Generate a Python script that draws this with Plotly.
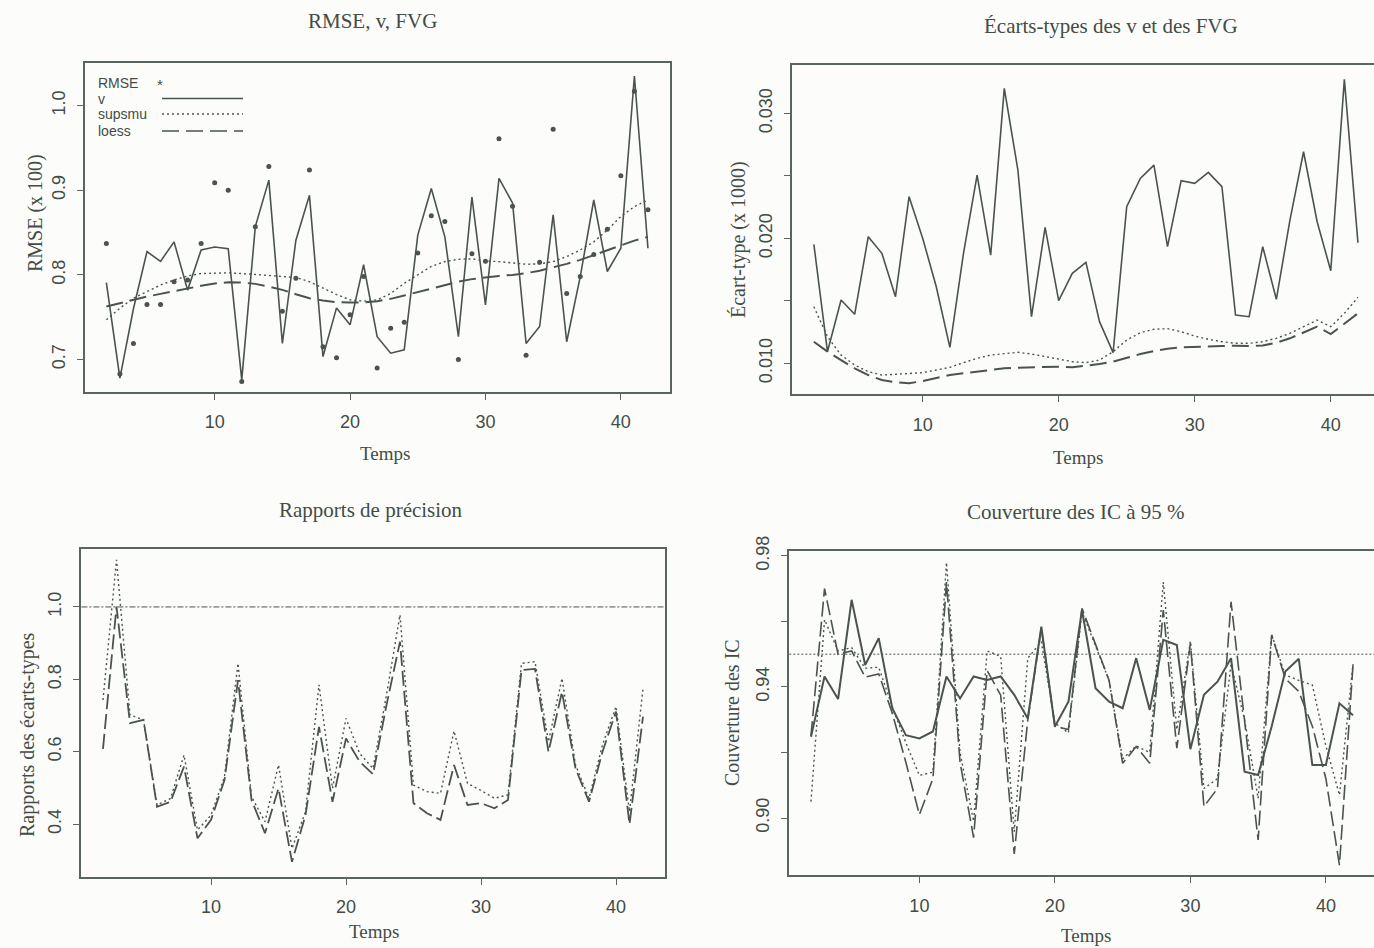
import plotly.graph_objects as go

# ---------------- data ----------------
temps = list(range(2, 43))

# Panel 1 : RMSE, v, FVG
rmse = [0.837, 0.683, 0.719, 0.765, 0.765, 0.792, 0.794, 0.837, 0.909, 0.900,
        0.674, 0.857, 0.928, 0.757, 0.796, 0.924, 0.715, 0.702, 0.753, 0.798,
        0.690, 0.737, 0.744, 0.826, 0.870, 0.863, 0.700, 0.825, 0.816, 0.961,
        0.881, 0.705, 0.815, 0.972, 0.778, 0.798, 0.824, 0.854, 0.917, 1.017, 0.877]
v_rmse = [0.791, 0.678, 0.760, 0.8275, 0.816, 0.839, 0.782, 0.8295, 0.833, 0.831,
          0.676, 0.857, 0.912, 0.719, 0.841, 0.894, 0.7035, 0.761, 0.741, 0.812,
          0.727, 0.7075, 0.7115, 0.847, 0.902, 0.845, 0.727, 0.892, 0.7646, 0.914,
          0.885, 0.719, 0.739, 0.871, 0.721, 0.798, 0.8885, 0.804, 0.8315, 1.035, 0.8315]
supsmu_rmse = [0.747, 0.7607, 0.7725, 0.780, 0.788, 0.794, 0.7988, 0.8016, 0.8024, 0.8024,
               0.8016, 0.8004, 0.7996, 0.7988, 0.797, 0.792, 0.7846, 0.7768, 0.7705, 0.769,
               0.7705, 0.778, 0.790, 0.800, 0.810, 0.8157, 0.8185, 0.819, 0.8165, 0.8157,
               0.8138, 0.8126, 0.813, 0.8157, 0.8216, 0.8295, 0.839, 0.853, 0.869, 0.8807, 0.8885]
loess_rmse = [0.7626, 0.7666, 0.7705, 0.7744, 0.7776, 0.781, 0.7843, 0.7871, 0.7898, 0.7913,
              0.791, 0.7894, 0.7862, 0.7823, 0.7772, 0.7725, 0.7697, 0.7677, 0.7673, 0.7673,
              0.7690, 0.7717, 0.7756, 0.7795, 0.7843, 0.788, 0.792, 0.795, 0.7972, 0.7988,
              0.800, 0.802, 0.805, 0.8087, 0.813, 0.8177, 0.8236, 0.8295, 0.8354, 0.8405, 0.845]

# Panel 2 : Ecarts-types des v et des FVG
sd_v = [0.01952, 0.01093, 0.01506, 0.01392, 0.02013, 0.0188, 0.01533, 0.02333, 0.0200, 0.01613,
        0.01128, 0.0188, 0.02506, 0.01866, 0.0320, 0.02546, 0.01373, 0.02088, 0.01501, 0.0172,
        0.01808, 0.01333, 0.01085, 0.02253, 0.0248, 0.02586, 0.01933, 0.02461, 0.0244, 0.02528,
        0.02413, 0.01386, 0.01373, 0.01933, 0.01512, 0.02146, 0.02693, 0.02133, 0.01741, 0.03272, 0.01965]
sd_supsmu = [0.01453, 0.01213, 0.01066, 0.00986, 0.00933, 0.00906, 0.00912, 0.0092, 0.00925, 0.00946,
             0.00968, 0.01005, 0.0104, 0.01066, 0.0108, 0.01088, 0.01074, 0.01053, 0.01032, 0.01013,
             0.01005, 0.01026, 0.01093, 0.01186, 0.01245, 0.01272, 0.01277, 0.01253, 0.01218, 0.01192,
             0.01173, 0.0116, 0.0116, 0.01173, 0.012, 0.0124, 0.01293, 0.01346, 0.01293, 0.014, 0.01528]
sd_loess = [0.01173, 0.01093, 0.01026, 0.0096, 0.00906, 0.00866, 0.00848, 0.0084, 0.00858, 0.00885,
            0.00906, 0.0092, 0.00933, 0.00952, 0.0096, 0.00965, 0.00968, 0.00973, 0.00973, 0.00968,
            0.00978, 0.00994, 0.01013, 0.01045, 0.01074, 0.01098, 0.01117, 0.01128, 0.01133, 0.01138,
            0.01138, 0.01141, 0.01138, 0.01142, 0.01165, 0.012, 0.01248, 0.01293, 0.01234, 0.01314, 0.014]

# Panel 3 : Rapports de precision
ratio_supsmu = [0.743, 1.13, 0.702, 0.688, 0.453, 0.471, 0.591, 0.384, 0.425, 0.531,
                0.844, 0.476, 0.407, 0.5635, 0.333, 0.4345, 0.785, 0.499, 0.692, 0.596,
                0.554, 0.757, 0.978, 0.508, 0.490, 0.485, 0.6575, 0.513, 0.493, 0.4715,
                0.481, 0.844, 0.849, 0.628, 0.803, 0.564, 0.471, 0.619, 0.725, 0.4345, 0.775]
ratio_loess = [0.608, 1.001, 0.679, 0.688, 0.448, 0.462, 0.559, 0.361, 0.412, 0.522,
               0.798, 0.467, 0.375, 0.499, 0.296, 0.425, 0.669, 0.462, 0.637, 0.573,
               0.538, 0.729, 0.904, 0.458, 0.430, 0.412, 0.5635, 0.453, 0.458, 0.444,
               0.467, 0.826, 0.829, 0.600, 0.766, 0.554, 0.462, 0.600, 0.711, 0.400, 0.697]
ratio_ref = 1.0

# Panel 4 : Couverture des IC a 95 %
cov_v = [0.9248, 0.9432, 0.9363, 0.9666, 0.9467, 0.9549, 0.9335, 0.9253, 0.9243, 0.9264,
         0.9432, 0.9365, 0.9432, 0.9421, 0.9432, 0.9376, 0.9304, 0.9584, 0.9279, 0.9355,
         0.9635, 0.9396, 0.9355, 0.9335, 0.9488, 0.933, 0.9544, 0.9528, 0.921, 0.9376,
         0.9416, 0.9488, 0.9141, 0.9131, 0.928, 0.9447, 0.9486, 0.9162, 0.9162, 0.935, 0.9314]
cov_supsmu = [0.905, 0.9605, 0.951, 0.952, 0.9457, 0.946, 0.934, 0.923, 0.913, 0.914,
              0.978, 0.920, 0.899, 0.951, 0.9493, 0.8958, 0.9488, 0.9538, 0.929, 0.926,
              0.963, 0.9528, 0.942, 0.918, 0.922, 0.920, 0.972, 0.927, 0.954, 0.909,
              0.912, 0.947, 0.930, 0.906, 0.956, 0.9437, 0.942, 0.9406, 0.922, 0.907, 0.947]
cov_loess = [0.925, 0.970, 0.950, 0.951, 0.943, 0.944, 0.932, 0.917, 0.901, 0.912,
             0.972, 0.917, 0.894, 0.945, 0.9375, 0.889, 0.930, 0.958, 0.928, 0.927,
             0.964, 0.953, 0.942, 0.9167, 0.9218, 0.9167, 0.9635, 0.9213, 0.9533, 0.9035,
             0.909, 0.966, 0.930, 0.8933, 0.9559, 0.9426, 0.9386, 0.928, 0.912, 0.8856, 0.9467]
cov_ref = 0.95

x_ticks = [10, 20, 30, 40]

# ---------------- style ----------------
W, H = 1374, 948
LINE = "#4a544d"
TEXT = "#434c46"
BOX = "#5a655d"
BG = "#fcfcfa"
SERIF = "Liberation Serif, Times New Roman, serif"
SANS = "Liberation Sans, Arial, sans-serif"
DOT = "2px,3px"
DASH = "17px,7px"


def fx(p):
    return p / W


def fy(p):
    return 1 - p / H


fig = go.Figure()

# Panel 1
fig.add_trace(go.Scatter(x=temps, y=v_rmse, mode="lines", line=dict(color=LINE, width=1.6),
                         xaxis="x", yaxis="y", name="v"))
fig.add_trace(go.Scatter(x=temps, y=supsmu_rmse, mode="lines", line=dict(color=LINE, width=1.4, dash=DOT),
                         xaxis="x", yaxis="y", name="supsmu"))
fig.add_trace(go.Scatter(x=temps, y=loess_rmse, mode="lines", line=dict(color=LINE, width=2, dash=DASH),
                         xaxis="x", yaxis="y", name="loess"))
fig.add_trace(go.Scatter(x=temps, y=rmse, mode="markers", marker=dict(color=LINE, size=5),
                         xaxis="x", yaxis="y", name="RMSE"))

# Panel 2
fig.add_trace(go.Scatter(x=temps, y=sd_v, mode="lines", line=dict(color=LINE, width=1.6),
                         xaxis="x2", yaxis="y2", name="v"))
fig.add_trace(go.Scatter(x=temps, y=sd_supsmu, mode="lines", line=dict(color=LINE, width=1.4, dash=DOT),
                         xaxis="x2", yaxis="y2", name="supsmu"))
fig.add_trace(go.Scatter(x=temps, y=sd_loess, mode="lines", line=dict(color=LINE, width=2, dash=DASH),
                         xaxis="x2", yaxis="y2", name="loess"))

# Panel 3
fig.add_trace(go.Scatter(x=temps, y=ratio_supsmu, mode="lines", line=dict(color=LINE, width=1.4, dash=DOT),
                         xaxis="x3", yaxis="y3", name="supsmu"))
fig.add_trace(go.Scatter(x=temps, y=ratio_loess, mode="lines", line=dict(color=LINE, width=1.8, dash="15px,5px"),
                         xaxis="x3", yaxis="y3", name="loess"))

# Panel 4
fig.add_trace(go.Scatter(x=temps, y=cov_v, mode="lines", line=dict(color=LINE, width=2),
                         xaxis="x4", yaxis="y4", name="v"))
fig.add_trace(go.Scatter(x=temps, y=cov_supsmu, mode="lines", line=dict(color=LINE, width=1.4, dash=DOT),
                         xaxis="x4", yaxis="y4", name="supsmu"))
fig.add_trace(go.Scatter(x=temps, y=cov_loess, mode="lines", line=dict(color=LINE, width=1.6, dash="15px,5px"),
                         xaxis="x4", yaxis="y4", name="loess"))

# panel geometry (pixels) and axis ranges
panels = [
    dict(x0=84.7, x1=669.6, y0=63.3, y1=391.7, xr=[0.4, 43.6], yr=[0.662, 1.050], mirror=True,
         yt=[0.7, 0.8, 0.9, 1.0], ytt=["0.7", "0.8", "0.9", "1.0"]),
    dict(x0=792.1, x1=1374, y0=65, y1=394.3, xr=[0.4, 43.18], yr=[0.00752, 0.03387], mirror=False,
         yt=[0.010, 0.015, 0.020, 0.025, 0.030], ytt=["0.010", "", "0.020", "", "0.030"]),
    dict(x0=81.4, x1=664.6, y0=549, y1=876.7, xr=[0.4, 43.6], yr=[0.255, 1.16], mirror=True,
         yt=[0.4, 0.6, 0.8, 1.0], ytt=["0.4", "0.6", "0.8", "1.0"]),
    dict(x0=789.3, x1=1374, y0=551, y1=875, xr=[0.4, 43.55], yr=[0.8826, 0.9815], mirror=False,
         yt=[0.90, 0.92, 0.94, 0.96, 0.98], ytt=["0.90", "", "0.94", "", "0.98"]),
]

layout = dict(
    width=W, height=H, margin=dict(l=0, r=0, t=0, b=0, pad=0, autoexpand=False),
    paper_bgcolor=BG, plot_bgcolor=BG, showlegend=False,
)
for i, p in enumerate(panels, start=1):
    sx = "" if i == 1 else str(i)
    layout["xaxis" + sx] = dict(
        domain=[fx(p["x0"]), fx(p["x1"])], range=p["xr"], anchor="y" + sx, automargin=False,
        showgrid=False, zeroline=False, showline=True, mirror=True, linecolor=BOX, linewidth=2,
        ticks="outside", ticklen=6, tickwidth=1.2, tickcolor=BOX,
        tickvals=x_ticks, ticktext=[str(t) for t in x_ticks],
        tickfont=dict(family=SANS, size=18, color=TEXT), ticklabelstandoff=7,
    )
    layout["yaxis" + sx] = dict(
        domain=[fy(p["y1"]), fy(p["y0"])], range=p["yr"], anchor="x" + sx, automargin=False,
        showgrid=False, zeroline=False, showline=True, mirror=p["mirror"], linecolor=BOX, linewidth=2,
        ticks="outside", ticklen=6, tickwidth=1.2, tickcolor=BOX,
        tickvals=p["yt"], ticktext=p["ytt"], tickangle=-90,
        tickfont=dict(family=SANS, size=18, color=TEXT), ticklabelstandoff=5,
    )

fig.update_layout(**layout)

# reference lines
fig.add_shape(type="line", xref="x3 domain", yref="y3", x0=0, x1=1, y0=ratio_ref, y1=ratio_ref,
              line=dict(color=LINE, width=1, dash="6px,2px,2px,2px"))
fig.add_shape(type="line", xref="x4 domain", yref="y4", x0=0, x1=1, y0=cov_ref, y1=cov_ref,
              line=dict(color=LINE, width=1, dash="2px,2px"))

# titles and axis labels
texts = [
    ("RMSE, v, FVG", 372, 21, 0, 21),
    ("Écarts-types des v et des FVG", 1111, 26, 0, 21),
    ("Rapports de précision", 371, 510, 0, 21),
    ("Couverture des IC à 95 %", 1076, 512, 0, 21),
    ("Temps", 385, 453, 0, 19),
    ("Temps", 1078, 457, 0, 19),
    ("Temps", 374, 931, 0, 19),
    ("Temps", 1086, 935, 0, 19),
    ("RMSE (x 100)", 36, 213, -90, 20),
    ("Écart-type (x 1000)", 738, 240, -90, 20),
    ("Rapports des écarts-types", 27, 735, -90, 20),
    ("Couverture des IC", 732, 713, -90, 20),
]
for txt, x, y, ang, size in texts:
    fig.add_annotation(text=txt, x=fx(x), y=fy(y), xref="paper", yref="paper",
                       showarrow=False, textangle=ang, xanchor="center", yanchor="middle",
                       font=dict(family=SERIF, size=size, color=TEXT))

# legend of panel 1 (text on the left, symbol on the right)
leg_rows = [("RMSE", 83, None), ("v", 98.5, "solid"), ("supsmu", 114, DOT), ("loess", 131, DASH)]
for lab, y, style in leg_rows:
    fig.add_annotation(text=lab, x=fx(96), y=fy(y), xref="paper", yref="paper", showarrow=False,
                       xanchor="left", yanchor="middle", font=dict(family=SANS, size=14, color=TEXT))
    if style is None:
        fig.add_annotation(text="*", x=fx(160), y=fy(y + 2), xref="paper", yref="paper", showarrow=False,
                           xanchor="center", yanchor="middle", font=dict(family=SANS, size=15, color=TEXT))
    else:
        fig.add_shape(type="line", xref="paper", yref="paper", x0=fx(162), x1=fx(243), y0=fy(y), y1=fy(y),
                      line=dict(color=LINE, width=1.6 if style != DOT else 1.3, dash=style))

fig.write_html("out.html")
